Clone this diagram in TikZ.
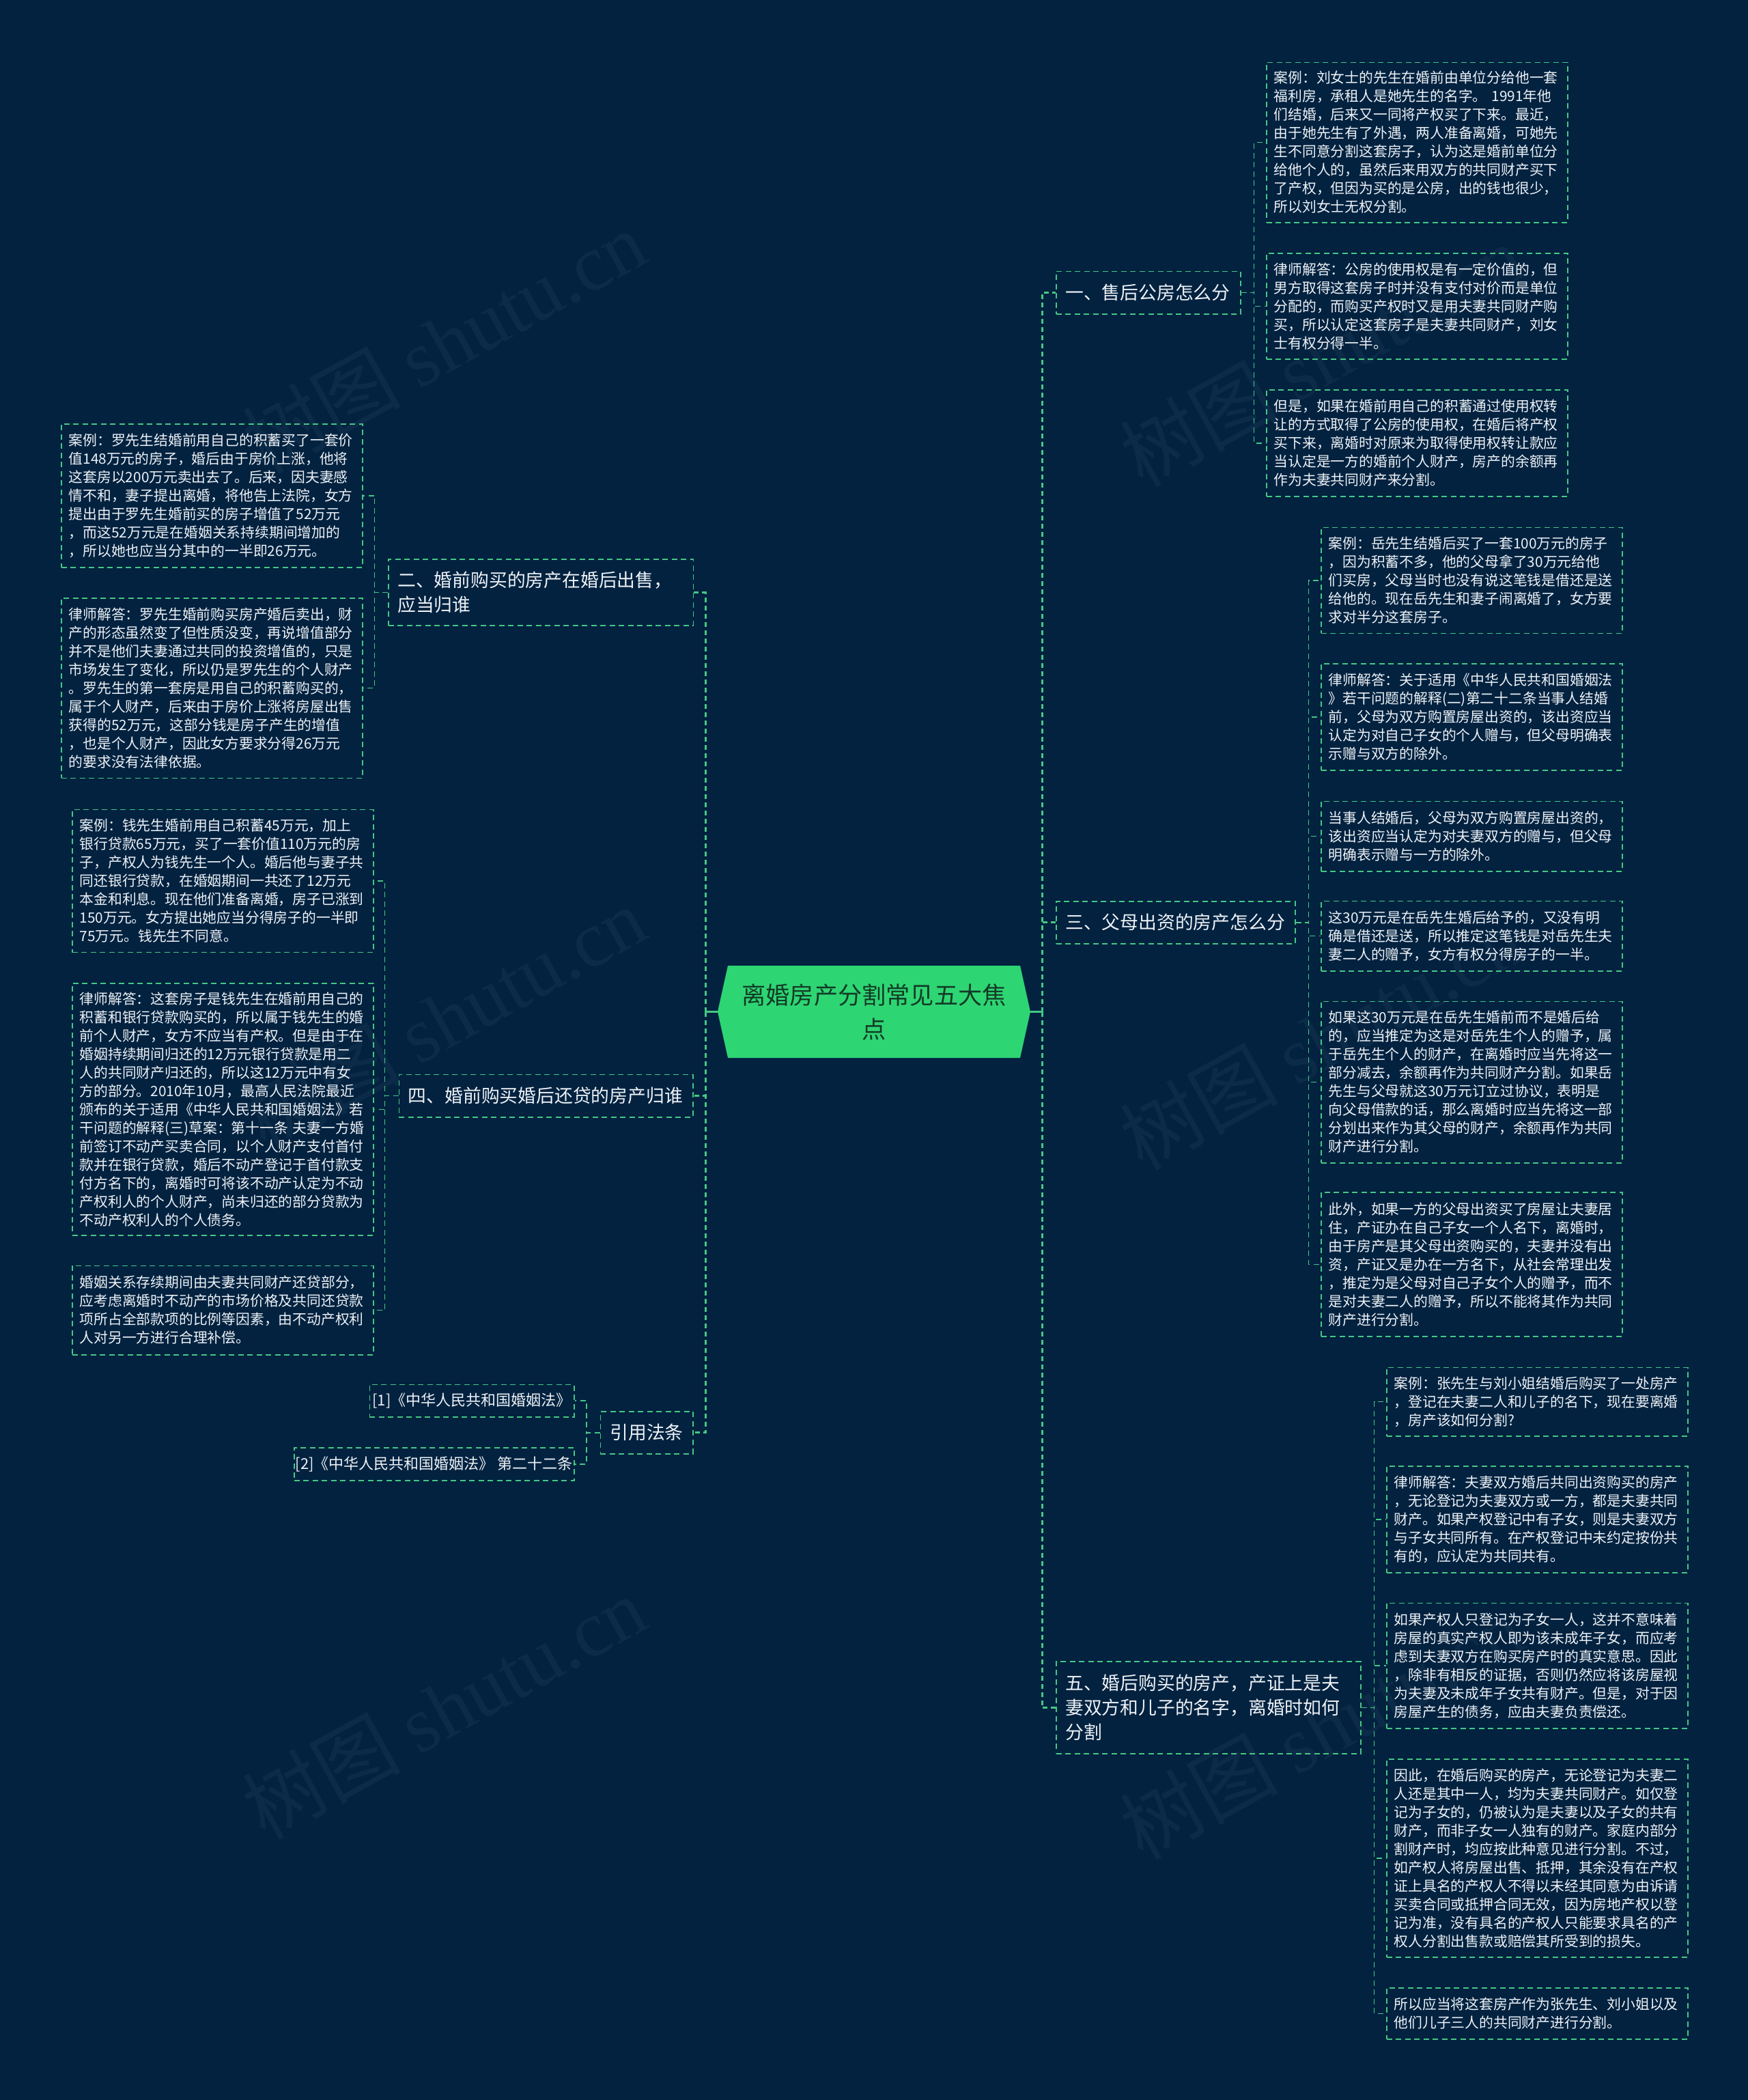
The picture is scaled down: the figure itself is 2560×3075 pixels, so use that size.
\documentclass[tikz,border=0pt]{standalone}
\usepackage{fontspec}
\setmainfont{Noto Sans CJK SC}
\newfontfamily\wmfont{Liberation Serif}
\definecolor{bgc}{HTML}{022240}
\definecolor{lnc}{HTML}{45C883}
\definecolor{hexc}{HTML}{2ED573}
\definecolor{hextxt}{HTML}{123A26}
\definecolor{txc}{HTML}{EEF2F6}
\tikzset{
  leaf/.style={draw=lnc, line width=0.75pt, dash pattern=on 4pt off 2.75pt, anchor=north west,
    inner xsep=5.5pt, inner ysep=0pt, text=txc, align=left, text width=209.5pt,
    font=\fontsize{10.4pt}{13.5pt}\selectfont},
  sect/.style={draw=lnc, line width=0.75pt, dash pattern=on 4pt off 2.75pt, anchor=north west,
    inner xsep=6.75pt, inner ysep=0pt, text=txc, align=left,
    font=\fontsize{13.4pt}{18pt}\selectfont},
  citebox/.style={draw=lnc, line width=0.75pt, dash pattern=on 4pt off 2.75pt, anchor=north west,
    inner sep=0pt, text=txc, align=center, font=\fontsize{11pt}{13.5pt}\selectfont},
  centre/.style={inner sep=0pt, minimum width=229pt, minimum height=67.5pt, align=center,
    text=hextxt, font=\fontsize{17.6pt}{25pt}\selectfont},
  trunk/.style={draw=lnc, line width=1.5pt, dash pattern=on 3.5pt off 2.5pt},
  trunksolid/.style={draw=lnc, line width=1.5pt},
  brk/.style={draw=lnc, line width=0.75pt, dash pattern=on 4pt off 2.75pt},
  wm/.style={text=white, text opacity=0.045, rotate=29, font=\fontsize{58pt}{60pt}\selectfont}
}
\begin{document}
\begin{tikzpicture}[x=0.5pt,y=-0.5pt]
\fill[bgc] (0,0) rectangle (2560,3075);
\useasboundingbox (0,0) rectangle (2560,3075);

% watermarks
\node[wm] (w1) at (650,500) {树图 {\wmfont shutu.cn}};
\node[wm] (w2) at (1935,520) {树图 {\wmfont shutu.cn}};
\node[wm] (w3) at (650,1490) {树图 {\wmfont shutu.cn}};
\node[wm] (w4) at (1935,1520) {树图 {\wmfont shutu.cn}};
\node[wm] (w5) at (650,2500) {树图 {\wmfont shutu.cn}};
\node[wm] (w6) at (1935,2530) {树图 {\wmfont shutu.cn}};

% central node
\fill[hexc] (1051,1481.5) -- (1066,1414) -- (1494,1414) -- (1509,1481.5) -- (1494,1549) -- (1066,1549) -- cycle;
\node[centre] (c) at (1280,1481.5) {离婚房产分割常见五大焦\\点};

% section nodes
\node[sect, text width=121.5pt, minimum height=31.25pt] (s1) at (1546,396.5) {一、售后公房怎么分};
\node[sect, text width=161.5pt, minimum height=31pt] (s3) at (1546,1319) {三、父母出资的房产怎么分};
\node[sect, text width=209.5pt, minimum height=67.5pt] (s5) at (1546,2432) {五、婚后购买的房产，产证上是夫\\妻双方和儿子的名字，离婚时如何\\分割};
\node[sect, text width=209.8pt, minimum height=48.5pt] (s2) at (568,818) {二、婚前购买的房产在婚后出售，\\应当归谁};
\node[sect, text width=201.7pt, minimum height=31.15pt] (s4) at (583.6,1572.7) {四、婚前购买婚后还贷的房产归谁};
\node[sect, text width=54.15pt, minimum height=31pt, align=center] (s6) at (878.7,2066) {引用法条};

% section 1 leaves
\node[leaf, minimum height=117.25pt] (l11) at (1854,90.5) {案例：刘女士的先生在婚前由单位分给他一套\\福利房，承租人是她先生的名字。 1991年他\\们结婚，后来又一同将产权买了下来。最近，\\由于她先生有了外遇，两人准备离婚，可她先\\生不同意分割这套房子，认为这是婚前单位分\\给他个人的，虽然后来用双方的共同财产买下\\了产权，但因为买的是公房，出的钱也很少，\\所以刘女士无权分割。};
\node[leaf, minimum height=77.5pt] (l12) at (1854,370) {律师解答：公房的使用权是有一定价值的，但\\男方取得这套房子时并没有支付对价而是单位\\分配的，而购买产权时又是用夫妻共同财产购\\买，所以认定这套房子是夫妻共同财产，刘女\\士有权分得一半。};
\node[leaf, minimum height=78pt] (l13) at (1854,570) {但是，如果在婚前用自己的积蓄通过使用权转\\让的方式取得了公房的使用权，在婚后将产权\\买下来，离婚时对原来为取得使用权转让款应\\当认定是一方的婚前个人财产，房产的余额再\\作为夫妻共同财产来分割。};

% section 3 leaves
\node[leaf, minimum height=77.5pt] (l31) at (1934,771.5) {案例：岳先生结婚后买了一套100万元的房子\\，因为积蓄不多，他的父母拿了30万元给他\\们买房，父母当时也没有说这笔钱是借还是送\\给他的。现在岳先生和妻子闹离婚了，女方要\\求对半分这套房子。};
\node[leaf, minimum height=78pt] (l32) at (1934,971) {律师解答：关于适用《中华人民共和国婚姻法\\》若干问题的解释(二)第二十二条当事人结婚\\前，父母为双方购置房屋出资的，该出资应当\\认定为对自己子女的个人赠与，但父母明确表\\示赠与双方的除外。};
\node[leaf, minimum height=51.25pt] (l33) at (1934,1172.5) {当事人结婚后，父母为双方购置房屋出资的，\\该出资应当认定为对夫妻双方的赠与，但父母\\明确表示赠与一方的除外。};
\node[leaf, minimum height=51.15pt] (l34) at (1934,1318.7) {这30万元是在岳先生婚后给予的，又没有明\\确是借还是送，所以推定这笔钱是对岳先生夫\\妻二人的赠予，女方有权分得房子的一半。};
\node[leaf, minimum height=118.25pt] (l35) at (1934,1465.5) {如果这30万元是在岳先生婚前而不是婚后给\\的，应当推定为这是对岳先生个人的赠予，属\\于岳先生个人的财产，在离婚时应当先将这一\\部分减去，余额再作为共同财产分割。如果岳\\先生与父母就这30万元订立过协议，表明是\\向父母借款的话，那么离婚时应当先将这一部\\分划出来作为其父母的财产，余额再作为共同\\财产进行分割。};
\node[leaf, minimum height=105.5pt] (l36) at (1934,1745) {此外，如果一方的父母出资买了房屋让夫妻居\\住，产证办在自己子女一个人名下，离婚时，\\由于房产是其父母出资购买的，夫妻并没有出\\资，产证又是办在一方名下，从社会常理出发\\，推定为是父母对自己子女个人的赠予，而不\\是对夫妻二人的赠予，所以不能将其作为共同\\财产进行分割。};

% section 5 leaves
\node[leaf, minimum height=50.2pt] (l51) at (2030,2001.6) {案例：张先生与刘小姐结婚后购买了一处房产\\，登记在夫妻二人和儿子的名下，现在要离婚\\，房产该如何分割?};
\node[leaf, minimum height=78pt] (l52) at (2030,2146) {律师解答：夫妻双方婚后共同出资购买的房产\\，无论登记为夫妻双方或一方，都是夫妻共同\\财产。如果产权登记中有子女，则是夫妻双方\\与子女共同所有。在产权登记中未约定按份共\\有的，应认定为共同共有。};
\node[leaf, minimum height=91.75pt] (l53) at (2030,2346.5) {如果产权人只登记为子女一人，这并不意味着\\房屋的真实产权人即为该未成年子女，而应考\\虑到夫妻双方在购买房产时的真实意思。因此\\，除非有相反的证据，否则仍然应将该房屋视\\为夫妻及未成年子女共有财产。但是，对于因\\房屋产生的债务，应由夫妻负责偿还。};
\node[leaf, minimum height=145pt] (l54) at (2030,2575) {因此，在婚后购买的房产，无论登记为夫妻二\\人还是其中一人，均为夫妻共同财产。如仅登\\记为子女的，仍被认为是夫妻以及子女的共有\\财产，而非子女一人独有的财产。家庭内部分\\割财产时，均应按此种意见进行分割。不过，\\如产权人将房屋出售、抵押，其余没有在产权\\证上具名的产权人不得以未经其同意为由诉请\\买卖合同或抵押合同无效，因为房地产权以登\\记为准，没有具名的产权人只能要求具名的产\\权人分割出售款或赔偿其所受到的损失。};
\node[leaf, minimum height=37.5pt] (l55) at (2030,2910) {所以应当将这套房产作为张先生、刘小姐以及\\他们儿子三人的共同财产进行分割。};

% section 2 leaves
\node[leaf, minimum height=105pt] (l21) at (89,620) {案例：罗先生结婚前用自己的积蓄买了一套价\\值148万元的房子，婚后由于房价上涨，他将\\这套房以200万元卖出去了。后来，因夫妻感\\情不和，妻子提出离婚，将他告上法院，女方\\提出由于罗先生婚前买的房子增值了52万元\\，而这52万元是在婚姻关系持续期间增加的\\，所以她也应当分其中的一半即26万元。};
\node[leaf, minimum height=131.75pt] (l22) at (89,875) {律师解答：罗先生婚前购买房产婚后卖出，财\\产的形态虽然变了但性质没变，再说增值部分\\并不是他们夫妻通过共同的投资增值的，只是\\市场发生了变化，所以仍是罗先生的个人财产\\。罗先生的第一套房是用自己的积蓄购买的，\\属于个人财产，后来由于房价上涨将房屋出售\\获得的52万元，这部分钱是房子产生的增值\\，也是个人财产，因此女方要求分得26万元\\的要求没有法律依据。};

% section 4 leaves
\node[leaf, minimum height=104.6pt] (l41) at (105,1184.6) {案例：钱先生婚前用自己积蓄45万元，加上\\银行贷款65万元，买了一套价值110万元的房\\子，产权人为钱先生一个人。婚后他与妻子共\\同还银行贷款，在婚姻期间一共还了12万元\\本金和利息。现在他们准备离婚，房子已涨到\\150万元。女方提出她应当分得房子的一半即\\75万元。钱先生不同意。};
\node[leaf, minimum height=184.5pt] (l42) at (105,1439) {律师解答：这套房子是钱先生在婚前用自己的\\积蓄和银行贷款购买的，所以属于钱先生的婚\\前个人财产，女方不应当有产权。但是由于在\\婚姻持续期间归还的12万元银行贷款是用二\\人的共同财产归还的，所以这12万元中有女\\方的部分。2010年10月，最高人民法院最近\\颁布的关于适用《中华人民共和国婚姻法》若\\干问题的解释(三)草案：第十一条 夫妻一方婚\\前签订不动产买卖合同，以个人财产支付首付\\款并在银行贷款，婚后不动产登记于首付款支\\付方名下的，离婚时可将该不动产认定为不动\\产权利人的个人财产，尚未归还的部分贷款为\\不动产权利人的个人债务。};
\node[leaf, minimum height=65.25pt] (l43) at (105,1852.5) {婚姻关系存续期间由夫妻共同财产还贷部分，\\应考虑离婚时不动产的市场价格及共同还贷款\\项所占全部款项的比例等因素，由不动产权利\\人对另一方进行合理补偿。};

% citations
\node[citebox, minimum width=149.7pt, minimum height=23.65pt] (c1) at (540.6,2026.7) {[1]《中华人民共和国婚姻法》};
\node[citebox, minimum width=205pt, minimum height=24pt] (c2) at (430,2119) {[2]《中华人民共和国婚姻法》 第二十二条};

% trunks
\coordinate (rt) at (1526,1481.5);
\coordinate (lt) at (1033,1481.5);
\draw[trunksolid] (c.east) -- (rt);
\draw[trunksolid] (c.west) -- (lt);
\foreach \s in {s1,s3,s5} \draw[trunk] (rt) |- (\s.west);
\foreach \s in {s2,s4,s6} \draw[trunk] (lt) |- (\s.east);

% brackets
\foreach \n in {l11,l12,l13} \draw[brk] (s1.east) -- ++(19,0) |- (\n.west);
\foreach \n in {l31,l32,l33,l34,l35,l36} \draw[brk] (s3.east) -- ++(19,0) |- (\n.west);
\foreach \n in {l51,l52,l53,l54,l55} \draw[brk] (s5.east) -- ++(19,0) |- (\n.west);
\foreach \n in {l21,l22} \draw[brk] (s2.west) -- ++(-19.4,0) |- (\n.east);
\foreach \n in {l41,l42,l43} \draw[brk] (s4.west) -- ++(-20,0) |- (\n.east);
\foreach \n in {c1,c2} \draw[brk] (s6.west) -- ++(-19.7,0) |- (\n.east);
\end{tikzpicture}
\end{document}
